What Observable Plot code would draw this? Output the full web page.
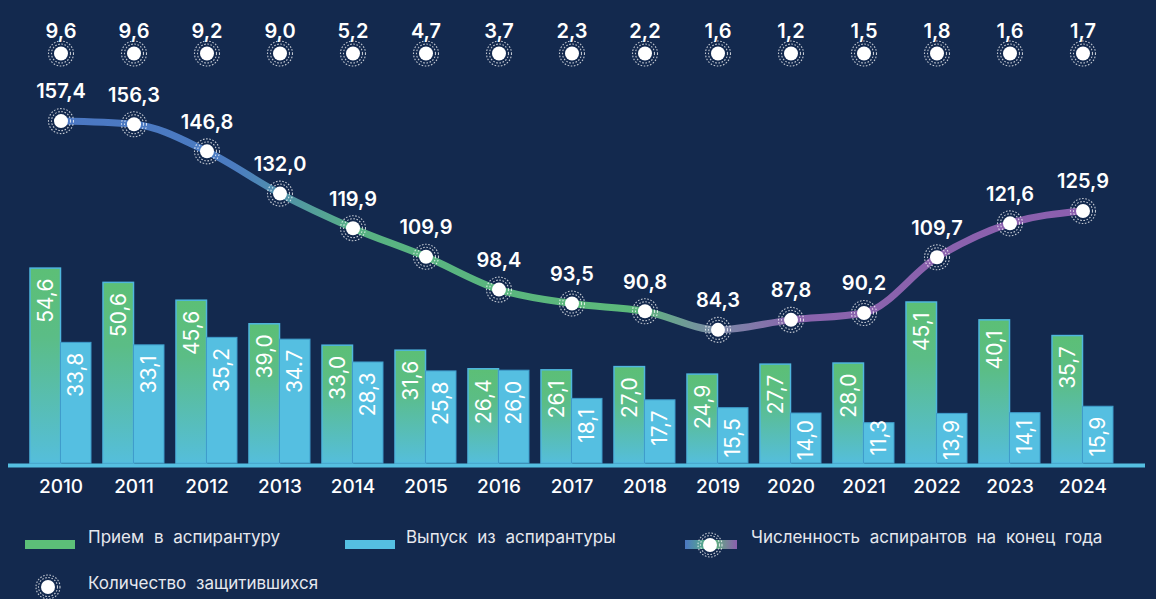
<!DOCTYPE html>
<html>
<head>
<meta charset="utf-8">
<script src="https://cdn.jsdelivr.net/npm/d3@7"></script>
<script src="https://cdn.jsdelivr.net/npm/@observablehq/plot@0.6"></script>
<style>
  html, body { margin: 0; padding: 0; background: #13294e; }
  #wrap { position: relative; width: 1156px; height: 599px; background: #13294e; font-family: Inter, "Noto Sans", sans-serif; overflow: hidden; }
  #chart svg { display: block; }
  .lg { position: absolute; color: #e6e8ee; font-size: 17px; word-spacing: 5px; line-height: 20px; white-space: nowrap; }
  .sw { position: absolute; height: 9px; }
</style>
</head>
<body>
<div id="wrap">
  <div id="chart"></div>
  <div class="sw" style="left:25px;top:540px;width:50px;background:#5cbf78"></div>
  <div class="lg" style="left:88px;top:527px">Прием в аспирантуру</div>
  <div class="sw" style="left:345px;top:540px;width:50px;background:#55bfe1"></div>
  <div class="lg" style="left:406px;top:527px">Выпуск из аспирантуры</div>
  <div class="sw" style="left:685px;top:540px;width:52px;background:linear-gradient(90deg,#4b77c3 0%,#5ab57d 45%,#5ab57d 55%,#8c5fae 100%)"></div>
  <svg style="position:absolute;left:696px;top:531px" width="28" height="28" viewBox="-14 -14 28 28">
    <circle r="12" fill="none" stroke="#fff" stroke-width="1.1" stroke-dasharray="1.6 1.6" opacity="0.75"/>
    <circle r="9.5" fill="none" stroke="#fff" stroke-width="1.1" stroke-dasharray="1.6 1.6" opacity="0.75"/>
    <circle r="7" fill="#fff"/>
  </svg>
  <div class="lg" style="left:751px;top:527px">Численность аспирантов на конец года</div>
  <svg style="position:absolute;left:34px;top:573px" width="28" height="28" viewBox="-14 -14 28 28">
    <circle r="12" fill="none" stroke="#fff" stroke-width="1.1" stroke-dasharray="1.6 1.6" opacity="0.75"/>
    <circle r="9.5" fill="none" stroke="#fff" stroke-width="1.1" stroke-dasharray="1.6 1.6" opacity="0.75"/>
    <circle r="7" fill="#fff"/>
  </svg>
  <div class="lg" style="left:88px;top:573px">Количество защитившихся</div>
</div>
<script>
// ---- data ----
const years = ["2010","2011","2012","2013","2014","2015","2016","2017","2018","2019","2020","2021","2022","2023","2024"];
const intake = [54.6, 50.6, 45.6, 39.0, 33.0, 31.6, 26.4, 26.1, 27.0, 24.9, 27.7, 28.0, 45.1, 40.1, 35.7];
const graduates = [33.8, 33.1, 35.2, 34.7, 28.3, 25.8, 26.0, 18.1, 17.7, 15.5, 14.0, 11.3, 13.9, 14.1, 15.9];
const graduateLabels = ["33,8","33,1","35,2","34.7","28,3","25,8","26,0","18,1","17,7","15,5","14,0","11,3","13,9","14,1","15,9"];
const enrolled = [157.4, 156.3, 146.8, 132.0, 119.9, 109.9, 98.4, 93.5, 90.8, 84.3, 87.8, 90.2, 109.7, 121.6, 125.9];
const defended = [9.6, 9.6, 9.2, 9.0, 5.2, 4.7, 3.7, 2.3, 2.2, 1.6, 1.2, 1.5, 1.8, 1.6, 1.7];

const rows = years.map((y, i) => ({
  year: y, intake: intake[i], grad: graduates[i], gradLabel: graduateLabels[i],
  enrolled: enrolled[i], defended: defended[i]
}));

const fmt = v => v.toFixed(1).replace(".", ",");
// the enrolled line sits on its own (secondary) axis, mapped onto the shared y scale
const enrolledToY = v => v * 0.8 - 30;
// keep in-bar labels of very short bars inside the plot (label needs ~15 units of room)
const labelY = v => Math.max(v, 15);

const defs = () => {
  const g = document.createElementNS("http://www.w3.org/2000/svg", "defs");
  g.innerHTML = `
    <linearGradient id="barGrad" x1="0" y1="0" x2="0" y2="1">
      <stop offset="0" stop-color="#5cbf76"/>
      <stop offset="0.35" stop-color="#5bbd86"/>
      <stop offset="1" stop-color="#55bedb"/>
    </linearGradient>
    <linearGradient id="lineGrad" x1="0" y1="0" x2="1" y2="0">
      <stop offset="0" stop-color="#4b77c3"/>
      <stop offset="0.17" stop-color="#4b7cc1"/>
      <stop offset="0.29" stop-color="#58b283"/>
      <stop offset="0.56" stop-color="#5cb97a"/>
      <stop offset="0.64" stop-color="#7a8aa6"/>
      <stop offset="0.72" stop-color="#8a64ad"/>
      <stop offset="1" stop-color="#8b5fae"/>
    </linearGradient>`;
  return g;
};

const halo = (opts) => [
  Plot.dot(rows, {...opts, r: 12.5, fill: "none", stroke: "#fff", strokeWidth: 1.1, strokeDasharray: "1.6 1.6", strokeOpacity: 0.75}),
  Plot.dot(rows, {...opts, r: 9.5, fill: "none", stroke: "#fff", strokeWidth: 1.1, strokeDasharray: "1.6 1.6", strokeOpacity: 0.75}),
  Plot.dot(rows, {...opts, r: 7, fill: "#fff", stroke: "none"})
];

const chart = Plot.plot({
  width: 1156,
  height: 505,
  marginTop: 0,
  marginLeft: 20,
  marginRight: 33,
  marginBottom: 42,
  style: {background: "transparent", fontFamily: "Inter, 'Noto Sans', sans-serif"},
  x: {domain: years, paddingInner: 0.17, paddingOuter: 0.085},
  y: {domain: [0, 129.7], axis: null},
  marks: [
    defs,
    Plot.barY(rows, {x: "year", y: "intake", fill: "url(#barGrad)", stroke: "#4fb6dd", strokeWidth: 1.5, insetRight: 30.5}),
    Plot.barY(rows, {x: "year", y: "grad", fill: "#55bfe1", stroke: "#3f9ccb", strokeWidth: 1, insetLeft: 30.5}),
    Plot.ruleY([0], {stroke: "#55bfe1", strokeWidth: 4, dy: 2, insetLeft: -12, insetRight: -22}),
    Plot.text(rows, {x: "year", y: d => labelY(d.intake), text: d => fmt(d.intake), rotate: -90, textAnchor: "end", dy: 10, dx: -15, fill: "#fff", fontSize: 21}),
    Plot.text(rows, {x: "year", y: d => labelY(d.grad), text: "gradLabel", rotate: -90, textAnchor: "end", dy: 10, dx: 15, fill: "#fff", fontSize: 21}),
    Plot.line(rows, {x: "year", y: d => enrolledToY(d.enrolled), curve: "monotone-x", stroke: "url(#lineGrad)", strokeWidth: 7}),
    ...halo({x: "year", y: d => enrolledToY(d.enrolled)}),
    Plot.text(rows, {x: "year", y: d => enrolledToY(d.enrolled), text: d => fmt(d.enrolled), dy: -29, fill: "#fff", fontSize: 20, fontWeight: 600}),
    ...halo({x: "year", frameAnchor: "top", dy: 53}),
    Plot.text(rows, {x: "year", text: d => fmt(d.defended), frameAnchor: "top", dy: 23, fill: "#fff", fontSize: 20, fontWeight: 600}),
    Plot.axisX({tickSize: 0, tickPadding: 16, fontSize: 19, fontWeight: 500, color: "#fff", label: null})
  ]
});
document.getElementById("chart").appendChild(chart);
</script>
</body>
</html>
